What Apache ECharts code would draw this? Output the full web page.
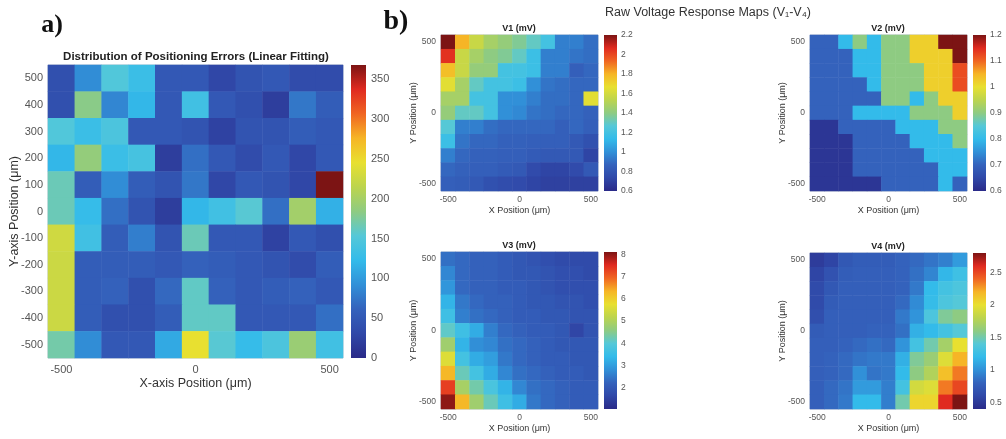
<!DOCTYPE html>
<html>
<head>
<meta charset="utf-8">
<script src="https://cdn.jsdelivr.net/npm/echarts@6/dist/echarts.min.js"></script>
<style>html,body{margin:0;padding:0;background:#fff}#c{width:1006px;height:439px}</style>
</head>
<body>
<div id="c"></div>
<script>
// ---- categories ----
const positions = ['-500','-400','-300','-200','-100','0','100','200','300','400','500'];

// ---- data: rows from Y=500 (top) to Y=-500 (bottom), columns X=-500..500 ----
const errorsA = [
  [40, 90, 150, 130, 50, 50, 30, 45, 50, 35, 35],
  [40, 182, 85, 120, 50, 135, 50, 40, 20, 75, 55],
  [150, 130, 145, 50, 50, 45, 25, 45, 45, 55, 50],
  [120, 188, 130, 140, 20, 70, 50, 35, 50, 30, 50],
  [165, 55, 90, 55, 45, 75, 30, 50, 45, 30, 368],
  [165, 125, 70, 45, 20, 120, 135, 155, 70, 198, 115],
  [228, 135, 55, 80, 45, 165, 50, 50, 25, 50, 40],
  [225, 55, 55, 55, 50, 60, 55, 50, 45, 35, 55],
  [225, 55, 60, 40, 65, 160, 60, 50, 55, 60, 50],
  [225, 55, 40, 40, 55, 160, 160, 50, 50, 50, 70],
  [170, 90, 50, 50, 110, 245, 155, 125, 145, 192, 135]
];
const v1 = [
  [2.2, 1.8, 1.57, 1.47, 1.42, 1.37, 1.3, 1.2, 0.95, 0.95, 0.9],
  [2.05, 1.57, 1.47, 1.4, 1.37, 1.3, 1.17, 0.95, 0.95, 0.92, 0.9],
  [1.77, 1.57, 1.42, 1.42, 1.2, 1.2, 1.17, 0.95, 0.95, 0.85, 0.88],
  [1.65, 1.47, 1.3, 1.2, 1.2, 1.17, 1.0, 0.92, 0.9, 0.88, 0.88],
  [1.47, 1.47, 1.2, 1.2, 1.0, 1.0, 0.95, 0.9, 0.9, 0.88, 1.65],
  [1.42, 1.3, 1.3, 1.2, 1.0, 0.98, 0.92, 0.9, 0.88, 0.88, 0.86],
  [1.27, 0.95, 0.95, 0.9, 0.88, 0.88, 0.88, 0.88, 0.85, 0.88, 0.85],
  [1.17, 0.92, 0.88, 0.88, 0.86, 0.86, 0.85, 0.85, 0.85, 0.82, 0.78],
  [0.95, 0.88, 0.86, 0.86, 0.85, 0.85, 0.83, 0.82, 0.82, 0.82, 0.72],
  [0.88, 0.86, 0.85, 0.85, 0.83, 0.82, 0.75, 0.72, 0.72, 0.75, 0.82],
  [0.85, 0.84, 0.82, 0.78, 0.76, 0.75, 0.72, 0.7, 0.7, 0.7, 0.7]
];
const v2 = [
  [0.7, 0.7, 0.8, 0.9, 0.8, 0.9, 0.9, 1.02, 1.02, 1.2, 1.2],
  [0.7, 0.7, 0.7, 0.8, 0.8, 0.9, 0.9, 1.02, 1.02, 1.02, 1.2],
  [0.7, 0.7, 0.7, 0.8, 0.8, 0.9, 0.9, 0.9, 1.02, 1.02, 1.12],
  [0.7, 0.7, 0.7, 0.7, 0.8, 0.9, 0.9, 0.9, 1.02, 1.02, 1.12],
  [0.7, 0.7, 0.7, 0.7, 0.7, 0.9, 0.9, 0.8, 0.9, 1.02, 1.02],
  [0.7, 0.7, 0.7, 0.8, 0.8, 0.8, 0.8, 0.9, 0.9, 0.9, 1.02],
  [0.62, 0.62, 0.7, 0.7, 0.7, 0.7, 0.8, 0.8, 0.8, 0.9, 0.9],
  [0.62, 0.62, 0.62, 0.7, 0.7, 0.7, 0.7, 0.8, 0.8, 0.8, 0.9],
  [0.62, 0.62, 0.62, 0.7, 0.7, 0.7, 0.7, 0.7, 0.8, 0.8, 0.8],
  [0.62, 0.62, 0.62, 0.7, 0.7, 0.7, 0.7, 0.7, 0.7, 0.8, 0.8],
  [0.62, 0.62, 0.62, 0.62, 0.62, 0.7, 0.7, 0.7, 0.7, 0.8, 0.7]
];
const v3 = [
  [2.4, 2.3, 2.2, 2.2, 2.1, 2.0, 1.9, 1.8, 1.7, 1.7, 1.7],
  [2.7, 2.3, 2.2, 2.2, 2.1, 2.0, 2.0, 1.9, 1.8, 1.8, 1.7],
  [2.9, 2.3, 2.2, 2.2, 2.1, 2.1, 2.0, 1.9, 1.8, 1.8, 1.8],
  [3.3, 2.5, 2.3, 2.2, 2.2, 2.1, 2.0, 2.0, 1.9, 1.9, 1.8],
  [3.6, 2.6, 2.4, 2.3, 2.2, 2.1, 2.1, 2.0, 2.0, 1.9, 1.9],
  [4.1, 3.6, 3.2, 2.6, 2.3, 2.2, 2.1, 2.1, 2.0, 1.6, 1.9],
  [4.8, 3.3, 2.8, 2.7, 2.4, 2.3, 2.2, 2.1, 2.0, 2.0, 2.0],
  [5.6, 3.7, 3.2, 3.0, 2.5, 2.3, 2.2, 2.1, 2.1, 2.0, 2.0],
  [6.3, 4.2, 3.7, 3.2, 2.7, 2.4, 2.3, 2.2, 2.1, 2.1, 2.0],
  [7.3, 4.9, 4.3, 3.8, 3.3, 2.7, 2.4, 2.3, 2.2, 2.1, 2.1],
  [8.0, 6.3, 4.8, 4.2, 3.6, 3.2, 2.5, 2.3, 2.2, 2.1, 2.1]
];
const v4 = [
  [0.52, 0.58, 0.72, 0.76, 0.76, 0.76, 0.8, 0.83, 0.88, 0.93, 1.05],
  [0.58, 0.68, 0.76, 0.78, 0.78, 0.78, 0.8, 0.86, 0.95, 1.18, 1.27],
  [0.62, 0.72, 0.78, 0.78, 0.78, 0.78, 0.8, 0.9, 1.2, 1.3, 1.35],
  [0.62, 0.75, 0.78, 0.78, 0.78, 0.78, 0.83, 0.98, 1.22, 1.35, 1.4],
  [0.65, 0.78, 0.78, 0.78, 0.78, 0.78, 0.9, 1.02, 1.35, 1.55, 1.6],
  [0.75, 0.78, 0.78, 0.78, 0.8, 0.8, 0.86, 1.15, 1.2, 1.3, 1.4],
  [0.78, 0.78, 0.8, 0.83, 0.86, 0.83, 1.02, 1.3, 1.5, 1.7, 2.0],
  [0.78, 0.8, 0.83, 0.88, 0.9, 0.9, 1.15, 1.55, 1.65, 1.95, 2.2],
  [0.78, 0.8, 0.83, 1.0, 0.88, 0.9, 1.2, 1.6, 1.75, 2.15, 2.35],
  [0.78, 0.83, 0.88, 1.05, 1.05, 0.92, 1.3, 1.9, 1.95, 2.35, 2.5],
  [0.78, 0.83, 0.9, 1.2, 1.2, 0.92, 1.5, 2.05, 2.05, 2.6, 2.8]
];

// ---- colour bar ranges and tick labels ----
const rangeA = [0, 368],  ticksA = [0, 50, 100, 150, 200, 250, 300, 350];
const range1 = [0.6, 2.2], ticks1 = [0.6, 0.8, 1, 1.2, 1.4, 1.6, 1.8, 2, 2.2];
const range2 = [0.6, 1.2], ticks2 = [0.6, 0.7, 0.8, 0.9, 1, 1.1, 1.2];
const range3 = [1.05, 8.1], ticks3 = [2, 3, 4, 5, 6, 7, 8];
const range4 = [0.4, 2.8], ticks4 = [0.5, 1, 1.5, 2, 2.5];

const palette = ['#2a2a88','#3048a8','#3462bc','#3190d8','#33bbea','#55c8d8',
                 '#8ecb82','#bcd44e','#e8e030','#f6b526','#f06522','#e02a20','#7c1414'];

const FONT = '"Liberation Sans", Arial, sans-serif';

function toCells(rows) {
  const out = [];
  rows.forEach((row, r) => row.forEach((v, c) => out.push([c, rows.length - 1 - r, v])));
  return out;
}
function gradient() {
  const n = palette.length;
  return { type: 'linear', x: 0, y: 0, x2: 0, y2: 1,
    colorStops: palette.slice().reverse().map((c, i) => ({ offset: i / (n - 1), color: c })) };
}

const panels = [
  { data: errorsA, range: rangeA, ticks: ticksA, step: 50,   grid: [48, 65, 295, 293], cb: [351, 65, 15, 293], big: true },
  { data: v1, range: range1, ticks: ticks1, step: 0.2,  grid: [441, 35, 157, 156], cb: [604, 35, 13, 156] },
  { data: v2, range: range2, ticks: ticks2, step: 0.1,  grid: [810, 35, 157, 156], cb: [973, 35, 13, 156] },
  { data: v3, range: range3, ticks: ticks3, step: 0.05, grid: [441, 252, 157, 157], cb: [604, 252, 13, 157] },
  { data: v4, range: range4, ticks: ticks4, step: 0.1,  grid: [810, 253, 157, 156], cb: [973, 253, 13, 156] }
];

const grid = [], xAxis = [], yAxis = [], series = [], visualMap = [];
panels.forEach((p, i) => {
  const big = !!p.big;
  const gi = grid.length;
  grid.push({ left: p.grid[0], top: p.grid[1], width: p.grid[2], height: p.grid[3],
    show: true, borderColor: '#a8b4c4', borderWidth: 0.8, backgroundColor: 'transparent' });
  xAxis.push({ gridIndex: gi, type: 'category', data: positions,
    name: big ? 'X-axis Position (μm)' : 'X Position (μm)', nameLocation: 'middle',
    nameGap: big ? 19 : 15, nameMoveOverlap: false,
    nameTextStyle: { fontFamily: FONT, fontSize: big ? 12.5 : 9, color: '#333' },
    axisLine: { show: false }, axisTick: { show: false }, splitLine: { show: false },
    axisLabel: { interval: 4, fontFamily: FONT, fontSize: big ? 11 : 8.5, color: '#555', margin: big ? 6 : 4 } });
  yAxis.push({ gridIndex: gi, type: 'category', data: positions,
    name: big ? 'Y-axis Position (μm)' : 'Y Position (μm)', nameLocation: 'middle',
    nameGap: big ? 27 : 23, nameMoveOverlap: false,
    nameTextStyle: { fontFamily: FONT, fontSize: big ? 12.5 : 9, color: '#333' },
    axisLine: { show: false }, axisTick: { show: false }, splitLine: { show: false },
    axisLabel: { interval: big ? 0 : 4, fontFamily: FONT, fontSize: big ? 11 : 8.5, color: '#555', margin: 5 } });
  const ax = xAxis.length - 1;
  series.push({ type: 'heatmap', xAxisIndex: ax, yAxisIndex: ax, data: toCells(p.data),
    itemStyle: { borderWidth: 0 }, emphasis: { disabled: true }, progressive: 0 });
  visualMap.push({ type: 'continuous', show: false, seriesIndex: series.length - 1, dimension: 2,
    min: p.range[0], max: p.range[1], inRange: { color: palette } });

  // colour bar
  const ci = grid.length;
  grid.push({ left: p.cb[0], top: p.cb[1], width: p.cb[2], height: p.cb[3],
    show: true, borderWidth: 0, backgroundColor: gradient() });
  xAxis.push({ gridIndex: ci, type: 'value', min: 0, max: 1, show: false });
  const ticks = p.ticks;
  yAxis.push({ gridIndex: ci, type: 'value', position: 'right', min: p.range[0], max: p.range[1],
    interval: p.step,
    axisLine: { show: false }, axisTick: { show: false }, splitLine: { show: false },
    axisLabel: { fontFamily: FONT, fontSize: big ? 11 : 8.5, color: '#555', margin: big ? 5 : 4,
      showMinLabel: true, showMaxLabel: true,
      formatter: v => {
        const t = ticks.find(k => Math.abs(k - v) < 1e-6);
        return t === undefined ? '' : String(t);
      } } });
});

const txt = (x, y, text, size, weight, family, color) => ({
  type: 'text', x, y, silent: true,
  style: { text, fontSize: size, fontWeight: weight || 'normal', fontFamily: family || FONT,
    fill: color || '#222', align: 'center', verticalAlign: 'middle' } });

const graphic = [
  txt(52, 25, 'a)', 26, 'bold', '"Liberation Serif", "Times New Roman", serif', '#111'),
  txt(396, 22, 'b)', 28, 'bold', '"Liberation Serif", "Times New Roman", serif', '#111'),
  txt(196, 57, 'Distribution of Positioning Errors (Linear Fitting)', 11.5, 'bold', FONT, '#222'),
  txt(708, 13, 'Raw Voltage Response Maps (V\u2081-V\u2084)', 12.5, 'normal', FONT, '#333'),
  txt(519, 29, 'V1 (mV)', 9, 'bold', FONT, '#222'),
  txt(888, 29, 'V2 (mV)', 9, 'bold', FONT, '#222'),
  txt(519, 246, 'V3 (mV)', 9, 'bold', FONT, '#222'),
  txt(888, 247, 'V4 (mV)', 9, 'bold', FONT, '#222')
];

const chart = echarts.init(document.getElementById('c'), null, { renderer: 'canvas' });
chart.setOption({ animation: false, backgroundColor: '#fff', grid, xAxis, yAxis, series, visualMap, graphic });
</script>
</body>
</html>
